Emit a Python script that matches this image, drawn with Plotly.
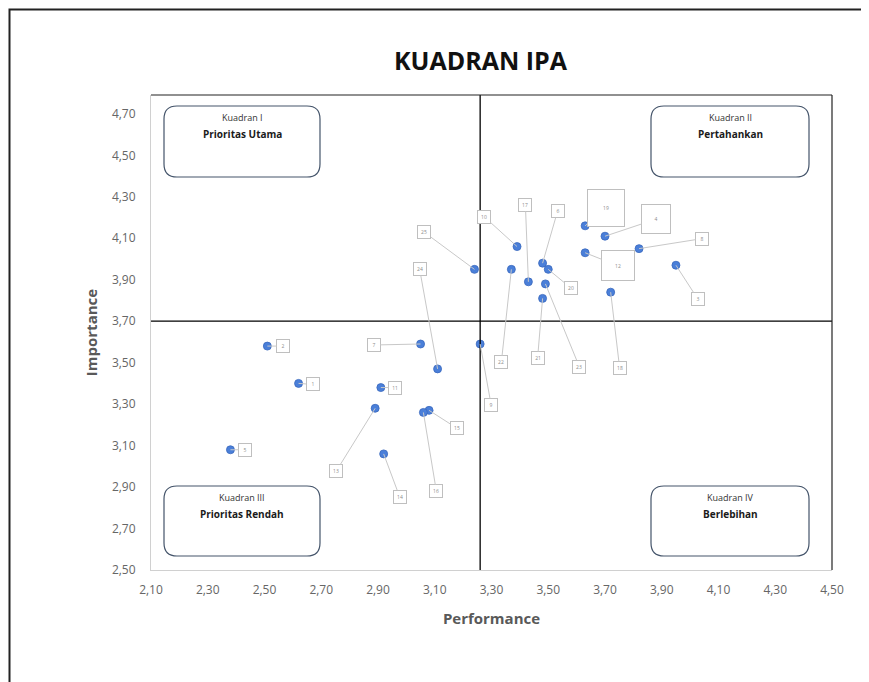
import plotly.graph_objects as go

# ---------------- data ----------------
labels = ["1", "2", "3", "4", "5", "6", "7", "8", "9", "10", "11", "12", "13",
          "14", "15", "16", "17", "18", "19", "20", "21", "22", "23", "24", "25"]
performance = [2.62, 2.51, 3.95, 3.70, 2.38, 3.48, 3.05, 3.82, 3.26, 3.39, 2.91, 3.63, 2.89,
               2.92, 3.08, 3.06, 3.43, 3.72, 3.63, 3.50, 3.48, 3.37, 3.49, 3.11, 3.24]
importance = [3.40, 3.58, 3.97, 4.11, 3.08, 3.98, 3.59, 4.05, 3.59, 4.06, 3.38, 4.03, 3.28,
              3.06, 3.27, 3.26, 3.89, 3.84, 4.16, 3.95, 3.81, 3.95, 3.88, 3.47, 3.95]
mean_performance = 3.26
mean_importance = 3.70

x_ticks = [2.10, 2.30, 2.50, 2.70, 2.90, 3.10, 3.30, 3.50, 3.70, 3.90, 4.10, 4.30, 4.50]
x_ticktext = ["2,10", "2,30", "2,50", "2,70", "2,90", "3,10", "3,30", "3,50", "3,70",
              "3,90", "4,10", "4,30", "4,50"]
y_ticks = [2.50, 2.70, 2.90, 3.10, 3.30, 3.50, 3.70, 3.90, 4.10, 4.30, 4.50, 4.70]
y_ticktext = ["2,50", "2,70", "2,90", "3,10", "3,30", "3,50", "3,70", "3,90", "4,10",
              "4,30", "4,50", "4,70"]

quadrant_titles = ["Kuadran I", "Kuadran II", "Kuadran III", "Kuadran IV"]
quadrant_names = ["Prioritas Utama", "Pertahankan", "Prioritas Rendah", "Berlebihan"]

# ---------------- styling / layout ----------------
OFF = 8  # browser body margin
W, H = 869 - OFF, 682 - OFF
L, R, T, B = 151 - OFF, 37, 95 - OFF, 112
PW, PH = W - L - R, H - T - B
FONT = "Open Sans"

def px(xp):
    # window pixel -> paper
    return (xp - OFF - L) / PW

def py(yp):
    return (H - B - (yp - OFF)) / PH

# label offsets in pixels (ax, ay) relative to point
label_offsets = {
    "1": (14, 1), "2": (16, 0), "3": (22, 34), "4": (51, -17), "5": (15, 0),
    "6": (15, -52), "7": (-47, 1), "8": (63, -10), "9": (11, 61), "10": (-33, -30),
    "11": (14, 0), "12": (33, 13), "13": (-39, 63), "14": (16, 43), "15": (28, 18),
    "16": (13, 79), "17": (-3, -77), "18": (9, 76), "19": (21, -18), "20": (23, 19),
    "21": (-5, 60), "22": (-10, 93), "23": (34, 83), "24": (-18, -100), "25": (-50, -37),
}
label_box = {"19": (34, 34), "4": (26, 26), "12": (30, 27)}

fig = go.Figure()

fig.add_trace(go.Scatter(
    x=performance, y=importance, mode="markers",
    marker=dict(size=8, color="#4A7FD9", line=dict(color="#3A68BD", width=0.8)),
    text=labels, hoverinfo="text+x+y", showlegend=False,
))

annotations = []
for lab, xv, yv in zip(labels, performance, importance):
    ax, ay = label_offsets[lab]
    bw, bh = label_box.get(lab, (10, 10))
    annotations.append(dict(
        x=xv, y=yv, xref="x", yref="y", text=lab,
        showarrow=True, arrowhead=0, arrowwidth=1, arrowcolor="#c8c8c8",
        ax=ax, ay=ay, axref="pixel", ayref="pixel",
        font=dict(size=5, color="#8c8c8c", family=FONT),
        bgcolor="white", bordercolor="#bfbfbf", borderwidth=1,
        width=bw, height=bh, align="center", valign="middle", borderpad=1,
    ))

shapes = []

def rounded_rect(x0, y0, x1, y1, r):
    def P(xp, yp):
        return f"{px(xp):.5f},{py(yp):.5f}"
    return ("M " + P(x0 + r, y0) + " L " + P(x1 - r, y0) +
            " Q " + P(x1, y0) + " " + P(x1, y0 + r) +
            " L " + P(x1, y1 - r) +
            " Q " + P(x1, y1) + " " + P(x1 - r, y1) +
            " L " + P(x0 + r, y1) +
            " Q " + P(x0, y1) + " " + P(x0, y1 - r) +
            " L " + P(x0, y0 + r) +
            " Q " + P(x0, y0) + " " + P(x0 + r, y0) + " Z")

boxes = [(164, 106, 320, 177), (651, 106, 809, 177), (164, 486, 320, 556), (651, 486, 809, 556)]
for (x0, y0, x1, y1), qt, qn in zip(boxes, quadrant_titles, quadrant_names):
    shapes.append(dict(type="path", xref="paper", yref="paper",
                       path=rounded_rect(x0, y0, x1, y1, 13),
                       line=dict(color="#44546A", width=1.2), fillcolor="rgba(0,0,0,0)", layer="above"))
    cx = (x0 + x1) / 2
    annotations.append(dict(x=px(cx), y=py(y0 + 11), xref="paper", yref="paper", text=qt,
                            xanchor="center", yanchor="middle",
                            showarrow=False, font=dict(size=9, color="#333333", family=FONT)))
    annotations.append(dict(x=px(cx), y=py(y0 + 28), xref="paper", yref="paper", text=f"<b>{qn}</b>",
                            xanchor="center", yanchor="middle",
                            showarrow=False, font=dict(size=10, color="#1a1a1a", family=FONT)))

# quadrant divider lines
shapes.append(dict(type="line", xref="x", yref="paper", x0=mean_performance, x1=mean_performance,
                   y0=0, y1=1, line=dict(color="#000000", width=1.3), layer="above"))
shapes.append(dict(type="line", xref="paper", yref="y", x0=0, x1=1,
                   y0=mean_importance, y1=mean_importance, line=dict(color="#000000", width=1.3), layer="above"))
# top and right frame
shapes.append(dict(type="line", xref="paper", yref="paper", x0=0, x1=1, y0=1, y1=1,
                   line=dict(color="#222222", width=1.2)))
shapes.append(dict(type="line", xref="paper", yref="paper", x0=1, x1=1, y0=0, y1=1,
                   line=dict(color="#222222", width=1.2)))
# outer page border (kept inside the figure)
shapes.append(dict(type="rect", xref="paper", yref="paper",
                   x0=px(9.5), x1=px(866), y0=py(9.5), y1=py(700),
                   line=dict(color="#222222", width=2), fillcolor="rgba(0,0,0,0)"))

annotations.append(dict(x=px(481), y=py(60), xref="paper", yref="paper", text="<b>KUADRAN IPA</b>",
                        xanchor="center", yanchor="middle",
                        showarrow=False, font=dict(size=25, color="#111111", family=FONT)))

fig.update_layout(
    width=W, height=H,
    margin=dict(l=L, r=R, t=T, b=B),
    paper_bgcolor="white", plot_bgcolor="white",
    shapes=shapes, annotations=annotations,
    xaxis=dict(range=[2.1, 4.5], tickvals=x_ticks, ticktext=x_ticktext, showgrid=False,
               zeroline=False, showline=True, linecolor="#d0d0d0", linewidth=1,
               tickfont=dict(size=12, color="#666666", family=FONT), ticks="", ticklabelstandoff=9,
               title=dict(text="<b>Performance</b>", font=dict(size=15, color="#595959", family=FONT),
                          standoff=16)),
    yaxis=dict(range=[2.5, 4.791], tickvals=y_ticks, ticktext=y_ticktext, showgrid=False,
               zeroline=False, showline=True, linecolor="#d0d0d0", linewidth=1,
               tickfont=dict(size=12, color="#666666", family=FONT), ticks="", ticklabelstandoff=12,
               title=dict(text="<b>Importance</b>", font=dict(size=15, color="#595959", family=FONT),
                          standoff=10)),
)

fig.write_html("out.html")
